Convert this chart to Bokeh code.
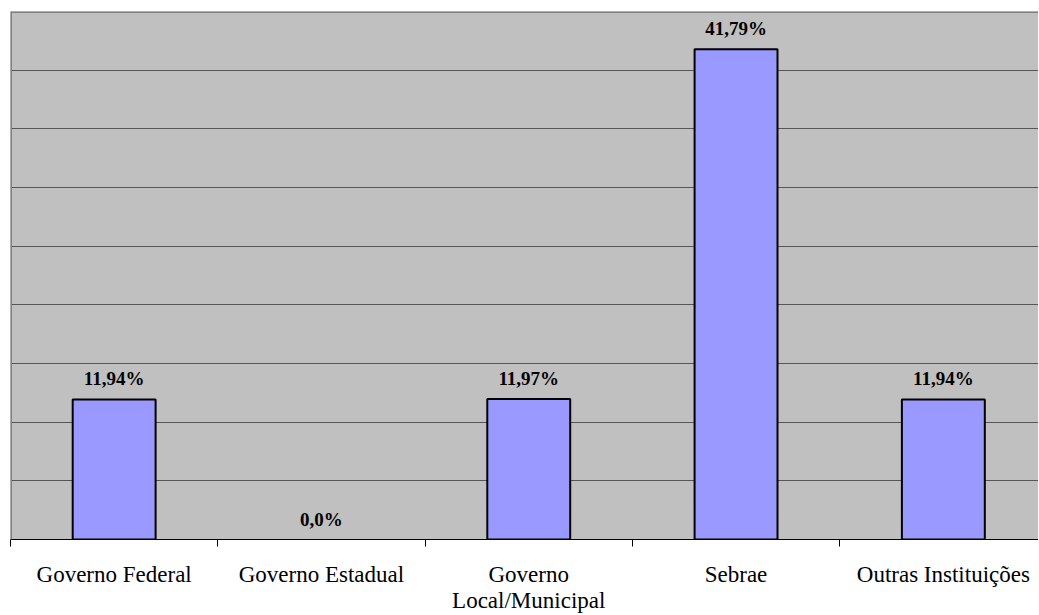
from bokeh.plotting import figure
from bokeh.models import Range1d, FixedTicker, LabelSet, ColumnDataSource, Span
from bokeh.embed import file_html
from bokeh.resources import INLINE

categories = ["Governo Federal", "Governo Estadual", "Governo\nLocal/Municipal", "Sebrae", "Outras Instituições"]
values = [11.94, 0.0, 11.97, 41.79, 11.94]
value_labels = ["11,94%", "0,0%", "11,97%", "41,79%", "11,94%"]
y_ticks = [0, 5, 10, 15, 20, 25, 30, 35, 40, 45]

idx = list(range(len(categories)))
line_alpha = [1.0 if v > 0 else 0.0 for v in values]
source = ColumnDataSource(dict(x=idx, top=values, label=value_labels, la=line_alpha))

p = figure(frame_width=1028, frame_height=528, output_backend="svg", toolbar_location=None,
           x_range=Range1d(-0.5, 4.459), y_range=Range1d(0, 45),
           min_border_left=10, min_border_top=11, min_border_right=0, min_border_bottom=66)
p.border_fill_color = "white"
p.background_fill_color = "#C0C0C0"
p.outline_line_color = None

p.vbar(x="x", top="top", bottom=0, width=0.4, source=source,
       fill_color="#9999FF", line_color="black", line_width=2, line_alpha="la")

p.add_layout(LabelSet(x="x", y="top", text="label", source=source, y_offset=14,
                      text_align="center", text_baseline="alphabetic",
                      text_font="Liberation Serif", text_font_style="bold",
                      text_font_size="19px", text_color="black"))

p.yaxis.visible = False
p.ygrid.ticker = FixedTicker(ticks=y_ticks)
p.ygrid.grid_line_color = "#555555"
p.ygrid.grid_line_width = 1
p.xgrid.visible = False

ax = p.xaxis[0]
ax.ticker = FixedTicker(ticks=idx, minor_ticks=[i - 0.5 for i in range(len(categories) + 1)])
ax.major_label_overrides = {i: c for i, c in zip(idx, categories)}
ax.major_tick_in = 0
ax.major_tick_out = 0
ax.minor_tick_in = 0
ax.minor_tick_out = 7
ax.minor_tick_line_color = "black"
ax.axis_line_color = "black"
ax.axis_line_width = 1
ax.major_label_text_font = "Liberation Serif"
ax.major_label_text_font_size = "23px"
ax.major_label_text_color = "black"
ax.major_label_standoff = 15
ax.major_label_text_line_height = 1.05

p.add_layout(Span(location=-0.5, dimension="height", line_color="#808080", line_width=3))
p.add_layout(Span(location=45, dimension="width", line_color="#808080", line_width=3))

open("out.html", "w").write(file_html(p, INLINE))
